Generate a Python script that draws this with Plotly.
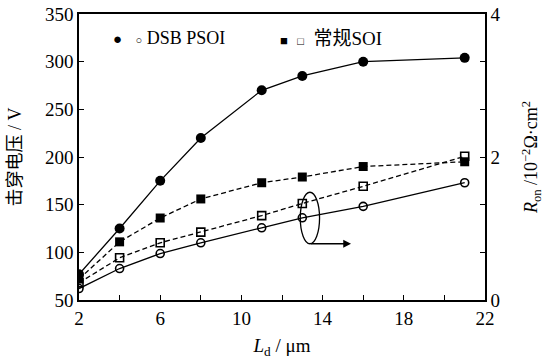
import plotly.graph_objects as go

# ---- data ----
ld = [2, 4, 6, 8, 11, 13, 16, 21]
bv_dsb = [77, 125, 175, 220, 270, 285, 300, 304]          # breakdown voltage, DSB PSOI (V)
bv_soi = [72, 111, 136, 156, 173, 179, 190, 195]          # breakdown voltage, conventional SOI (V)
ron_dsb = [0.16, 0.44, 0.65, 0.80, 1.01, 1.15, 1.31, 1.64]  # Ron, DSB PSOI (1e-2 ohm cm2)
ron_soi = [0.24, 0.59, 0.80, 0.95, 1.18, 1.35, 1.59, 2.01]  # Ron, conventional SOI

x_tickvals = [2, 4, 6, 8, 10, 12, 14, 16, 18, 20, 22]
x_ticktext = ["2", "", "6", "", "10", "", "14", "", "18", "", "22"]
y_tickvals = [50, 100, 150, 200, 250, 300, 350]
y2_tickvals = [0, 2/3, 4/3, 2, 8/3, 10/3, 4]
y2_ticktext = ["0", "", "", "2", "", "", "4"]

FONT = "'Liberation Serif', 'Times New Roman', 'DejaVu Serif', 'Noto Sans CJK SC', serif"
BLACK = "#000000"
LW = 1.3
DASH = "5px,3px"

fig = go.Figure()
fig.add_trace(go.Scatter(x=ld, y=bv_dsb, mode="lines+markers",
                         line=dict(color=BLACK, width=LW),
                         marker=dict(symbol="circle", size=10, color=BLACK),
                         showlegend=False))
fig.add_trace(go.Scatter(x=ld, y=bv_soi, mode="lines+markers",
                         line=dict(color=BLACK, width=LW, dash=DASH),
                         marker=dict(symbol="square", size=9, color=BLACK),
                         showlegend=False))
fig.add_trace(go.Scatter(x=ld, y=ron_soi, mode="lines+markers", yaxis="y2",
                         line=dict(color=BLACK, width=LW, dash=DASH),
                         marker=dict(symbol="square-open", size=8, color=BLACK,
                                     line=dict(width=1.6, color=BLACK)),
                         showlegend=False))
fig.add_trace(go.Scatter(x=ld, y=ron_dsb, mode="lines+markers", yaxis="y2",
                         line=dict(color=BLACK, width=LW),
                         marker=dict(symbol="circle-open", size=8, color=BLACK,
                                     line=dict(width=1.6, color=BLACK)),
                         showlegend=False))

# ellipse + arrow indicating right axis
fig.add_shape(type="circle", xref="x", yref="y", x0=12.9, x1=13.85, y0=109, y1=163,
              line=dict(color=BLACK, width=1.3))
fig.add_annotation(x=15.4, y=109, ax=13.35, ay=109, xref="x", yref="y",
                   axref="x", ayref="y", showarrow=True, arrowhead=2,
                   arrowsize=1.2, arrowwidth=1.3, arrowcolor=BLACK, text="")

# legend as text
fig.add_annotation(xref="paper", yref="paper", x=0.08, y=0.915, xanchor="left", yanchor="middle",
                   text="<span style='font-size:15px'>●</span>   <span style='font-size:11px'>○</span> DSB PSOI",
                   showarrow=False, font=dict(family=FONT, size=18, color=BLACK))
fig.add_annotation(xref="paper", yref="paper", x=0.49, y=0.915, xanchor="left", yanchor="middle",
                   text="<span style='font-size:13px'>■</span>  <span style='font-size:11px'>□</span>  "
                        "<span style='font-size:19px'>常规</span>SOI",
                   showarrow=False, font=dict(family=FONT, size=19, color=BLACK))

axis_common = dict(showline=True, linecolor=BLACK, linewidth=1.5, showgrid=False,
                   zeroline=False, ticks="inside", ticklen=5, tickcolor=BLACK, tickwidth=1,
                   automargin=False,
                   tickfont=dict(family=FONT, size=19, color=BLACK))

fig.update_layout(
    width=544, height=359,
    margin=dict(l=79, r=59, t=14, b=59, autoexpand=False),
    paper_bgcolor="white", plot_bgcolor="white",
    font=dict(family=FONT, color=BLACK),
    xaxis=dict(range=[2, 22], tickvals=x_tickvals, ticktext=x_ticktext,
               mirror=True,
               title=dict(text="<i>L</i><sub>d</sub> / μm", font=dict(family=FONT, size=19),
                          standoff=12),
               **axis_common),
    yaxis=dict(range=[50, 350], tickvals=y_tickvals, mirror=True,
               title=dict(text="击穿电压 / V", font=dict(family=FONT, size=18), standoff=19),
               **axis_common),
    yaxis2=dict(range=[0, 4], overlaying="y", side="right", tickvals=y2_tickvals,
                ticktext=y2_ticktext,
                title=dict(text="<i>R</i><sub>on</sub> /10<sup>−2</sup>Ω·cm<sup>2</sup>",
                           font=dict(family=FONT, size=18), standoff=30),
                **axis_common),
)

fig.write_html("out.html")
